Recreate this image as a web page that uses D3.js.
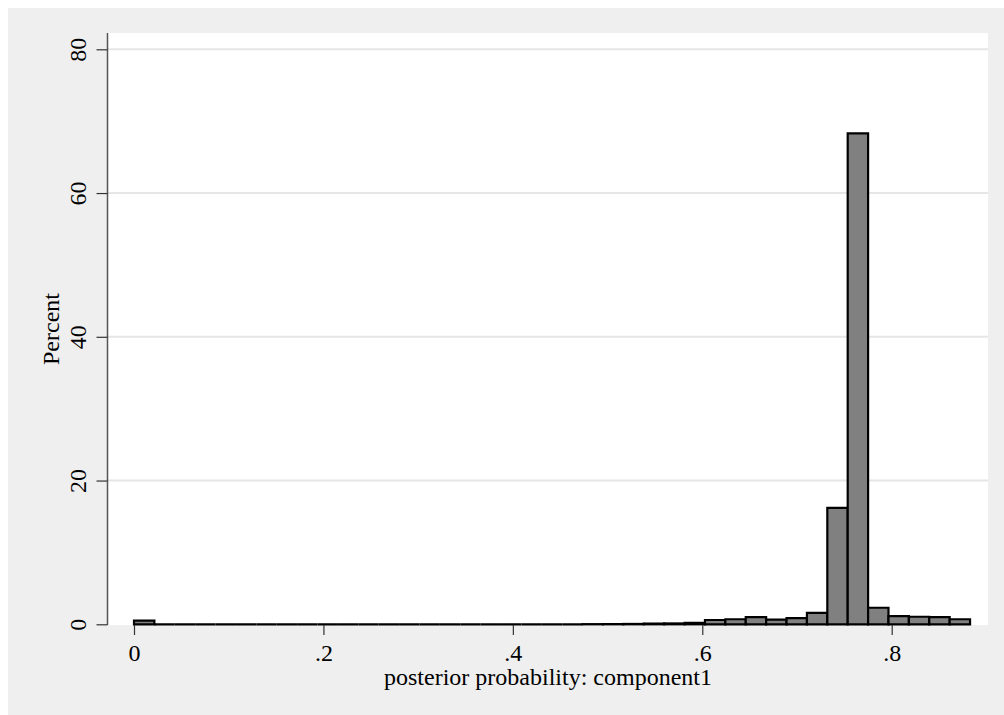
<!DOCTYPE html>
<html>
<head>
<meta charset="utf-8">
<script src="https://cdn.jsdelivr.net/npm/d3@7"></script>
<style>
  html, body { margin: 0; padding: 0; background: #ffffff; }
  svg { display: block; font-family: "Liberation Serif", "Times New Roman", serif; }
</style>
</head>
<body>
<svg id="chart" width="1004" height="715"></svg>
<script>
// histogram of posterior probability, 41 bins starting at 0
const BIN_START = 0;
const BIN_WIDTH = 0.02153;
const PERCENTS = [
  0.5, 0, 0, 0, 0, 0, 0, 0, 0, 0,
  0, 0, 0, 0, 0, 0, 0, 0, 0, 0,
  0, 0, 0.02, 0.03, 0.05, 0.1, 0.12, 0.2, 0.6, 0.7,
  1.0, 0.65, 0.85, 1.6, 16.2, 68.3, 2.3, 1.15, 1.05, 1.0,
  0.7
];
const X_TICKS = [0, 0.2, 0.4, 0.6, 0.8];
const X_TICK_LABELS = ["0", ".2", ".4", ".6", ".8"];
const Y_TICKS = [0, 20, 40, 60, 80];
const X_TITLE = "posterior probability: component1";
const Y_TITLE = "Percent";

const FONT = "'Liberation Serif', 'Times New Roman', serif";
const plot = { left: 108, right: 988, top: 33, bottom: 625 };

function barPath(bin, x, y) {
  // outline path, so an empty bin still shows as a line on the baseline
  const x0 = x(bin.x0);
  const x1 = x(bin.x1);
  const y0 = y(0);
  const y1 = y(bin.value);
  return `M${x0},${y0}V${y1}H${x1}V${y0}Z`;
}

function drawChart() {
  const svg = d3.select("#chart");

  svg.append("rect")
    .attr("x", 8)
    .attr("y", 8)
    .attr("width", 996)
    .attr("height", 707)
    .attr("fill", "#efefef");

  svg.append("rect")
    .attr("x", plot.left)
    .attr("y", plot.top)
    .attr("width", plot.right - plot.left)
    .attr("height", plot.bottom - plot.top)
    .attr("fill", "#ffffff");

  const x = d3.scaleLinear().domain([0, 0.8]).range([134, 891.7]);
  const y = d3.scaleLinear().domain([0, 80]).range([624.3, 49.3]);

  // grid lines
  svg.append("g")
    .selectAll("line")
    .data(Y_TICKS.filter((tick) => tick > 0))
    .join("line")
    .attr("x1", plot.left)
    .attr("x2", plot.right)
    .attr("y1", (tick) => y(tick))
    .attr("y2", (tick) => y(tick))
    .attr("stroke", "#e6e6e6")
    .attr("stroke-width", 2);

  // bars
  const bins = PERCENTS.map((value, index) => ({
    x0: BIN_START + index * BIN_WIDTH,
    x1: BIN_START + (index + 1) * BIN_WIDTH,
    value
  }));

  svg.append("g")
    .selectAll("path")
    .data(bins)
    .join("path")
    .attr("d", (bin) => barPath(bin, x, y))
    .attr("fill", "#808080")
    .attr("stroke", "#000000")
    .attr("stroke-width", 2.2)
    .attr("stroke-linejoin", "miter");

  // y axis
  const yAxis = svg.append("g")
    .attr("transform", `translate(${plot.left - 0.5},0)`)
    .call(d3.axisLeft(y).tickValues(Y_TICKS).tickSize(11).tickFormat(d3.format("d")));

  yAxis.attr("font-family", FONT);
  yAxis.select(".domain")
    .attr("d", `M0,${plot.top}V${plot.bottom}`)
    .attr("stroke", "#555555")
    .attr("stroke-width", 1.5);
  yAxis.selectAll(".tick line")
    .attr("stroke", "#333333")
    .attr("stroke-width", 1.2);
  yAxis.selectAll(".tick text")
    .attr("font-size", 24)
    .attr("fill", "#000000")
    .attr("text-anchor", "middle")
    .attr("x", null)
    .attr("dy", null)
    .attr("transform", "translate(-22,0) rotate(-90)");

  // x axis (no domain line, ticks only)
  const xAxis = svg.append("g")
    .attr("transform", `translate(0,${plot.bottom})`)
    .call(d3.axisBottom(x).tickValues(X_TICKS).tickSize(10).tickPadding(9).tickFormat((tick, index) => X_TICK_LABELS[index]));

  xAxis.attr("font-family", FONT);
  xAxis.select(".domain").remove();
  xAxis.selectAll(".tick line")
    .attr("stroke", "#333333")
    .attr("stroke-width", 1.2);
  xAxis.selectAll(".tick text")
    .attr("font-size", 24)
    .attr("fill", "#000000");

  svg.append("text")
    .attr("x", (plot.left + plot.right) / 2)
    .attr("y", 685)
    .attr("text-anchor", "middle")
    .attr("font-size", 24)
    .attr("fill", "#000000")
    .text(X_TITLE);

  svg.append("text")
    .attr("transform", `translate(59,${(plot.top + plot.bottom) / 2}) rotate(-90)`)
    .attr("text-anchor", "middle")
    .attr("font-size", 24)
    .attr("fill", "#000000")
    .text(Y_TITLE);
}

drawChart();
</script>
</body>
</html>
